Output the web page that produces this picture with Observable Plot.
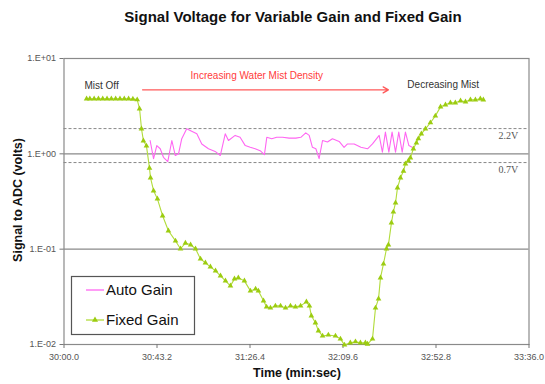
<!DOCTYPE html>
<html>
<head>
<meta charset="utf-8">
<script src="https://cdn.jsdelivr.net/npm/d3@7"></script>
<script src="https://cdn.jsdelivr.net/npm/@observablehq/plot@0.6"></script>
<style>
  html, body { margin: 0; padding: 0; background: #fff; }
  svg { font-family: Arial, "Liberation Sans", sans-serif; }
</style>
</head>
<body>
<div id="chart"></div>
<script>
// ---- Data (time in seconds after 30:00.0, values in volts) ----
const autoTime = [40.0, 41.6, 43.1, 44.7, 46.2, 48.2, 50.1, 51.7, 53.2, 54.7, 57.0, 58.6, 61.7, 64.0, 67.1, 70.2, 72.6, 74.9, 76.4, 79.5, 81.8, 84.2, 86.5, 88.8, 91.1, 93.1, 94.2, 96.5, 98.8, 101.5, 104.6, 107.7, 110.0, 112.3, 113.9, 115.4, 117.0, 118.5, 120.1, 122.4, 124.7, 127.8, 130.1, 131.7, 134.8, 137.9, 141.0, 143.3, 146.4, 147.9, 149.3, 150.9, 152.4, 154.0, 155.5, 157.1, 158.6, 160.2, 161.7];
const autoVolts = [1.38, 0.89, 1.22, 1.13, 0.92, 0.83, 1.38, 0.96, 1.00, 1.44, 1.83, 1.76, 1.62, 1.27, 1.13, 1.06, 0.96, 1.62, 1.38, 1.56, 1.49, 1.22, 1.17, 1.13, 1.08, 0.98, 1.49, 1.44, 1.49, 1.49, 1.46, 1.46, 1.49, 1.66, 1.56, 1.17, 1.13, 0.89, 1.38, 1.33, 1.44, 1.35, 1.17, 1.27, 1.27, 1.17, 1.13, 1.27, 1.56, 1.04, 1.69, 1.04, 1.69, 1.04, 1.69, 1.04, 1.69, 1.22, 1.17];

const fixedTime = [10.5, 12, 14, 16, 18, 20, 22, 24, 26, 28, 30, 32, 34, 35.1, 36.0, 36.9, 38.3, 39.7, 40.2, 41.6, 43.4, 45.8, 48.5, 51.8, 54.1, 56.4, 58.8, 61.1, 63.4, 65.7, 68.0, 70.4, 72.7, 75.0, 77.3, 79.2, 81.0, 83.8, 86.6, 89.0, 90.3, 92.7, 94.1, 95.9, 98.2, 100.6, 102.9, 105.2, 107.5, 109.9, 112.6, 114.0, 114.9, 116.8, 118.2, 120.1, 122.8, 126.1, 128.4, 130.3, 133.0, 135.4, 137.7, 140.0, 141.0, 143.3, 144.7, 146.1, 147.0, 148.4, 149.8, 150.7, 152.1, 153.0, 154.0, 154.9, 156.3, 157.7, 158.6, 160.0, 160.9, 162.3, 163.7, 164.6, 166.0, 167.9, 170.2, 172.5, 174.9, 177.2, 179.5, 181.8, 184.2, 186.5, 188.8, 191.1, 193.4, 194.8];
const fixedVolts = [3.78, 3.78, 3.78, 3.78, 3.78, 3.78, 3.78, 3.78, 3.78, 3.78, 3.78, 3.76, 3.70, 2.97, 1.83, 1.37, 1.21, 0.71, 0.56, 0.41, 0.337, 0.224, 0.156, 0.122, 0.101, 0.116, 0.111, 0.101, 0.079, 0.0718, 0.0652, 0.0592, 0.0525, 0.0465, 0.0412, 0.0488, 0.050, 0.0465, 0.0365, 0.0383, 0.0365, 0.0287, 0.0248, 0.0242, 0.0254, 0.0254, 0.0242, 0.0254, 0.0248, 0.0254, 0.028, 0.0254, 0.020, 0.0169, 0.0139, 0.0123, 0.0126, 0.0123, 0.01145, 0.0099, 0.0104, 0.0107, 0.0104, 0.0104, 0.0101, 0.01145, 0.0242, 0.0301, 0.050, 0.070, 0.101, 0.111, 0.189, 0.246, 0.306, 0.44, 0.56, 0.66, 0.785, 0.845, 0.908, 1.13, 1.30, 1.44, 1.62, 1.83, 2.12, 2.50, 3.11, 3.27, 3.43, 3.43, 3.60, 3.51, 3.69, 3.69, 3.78, 3.69];

const xTicks = [0, 43.2, 86.4, 129.6, 172.8, 216];
const yTicks = [10, 1, 0.1, 0.01];
const gridValues = [1, 0.1];
const thresholdValues = [1.84, 0.81];
const thresholdLabels = ["2.2V", "0.7V"];
const seriesNames = ["Auto Gain", "Fixed Gain"];
const titleText = "Signal Voltage for Variable Gain and Fixed Gain";
const xLabel = "Time (min:sec)";
const yLabel = "Signal to ADC (volts)";

const notes = [
  {t: 9.5, v: 5.2, text: "Mist Off"},
  {t: 159.5, v: 5.3, text: "Decreasing Mist"}
];
const redNote = [{t: 58.8, v: 6.6, text: "Increasing Water Mist Density"}];
const arrowSpan = [{t1: 36.5, t2: 150.7, v: 4.69}];

// ---- Tables ----
const autoData = autoTime.map((t, i) => ({t, v: autoVolts[i]}));
const fixedData = fixedTime.map((t, i) => ({t, v: fixedVolts[i]}));
const thresholds = thresholdValues.map((v, i) => ({v, label: thresholdLabels[i]}));

const fmtTime = s => {
  const total = 30 * 60 + s;
  const m = Math.floor(total / 60 + 1e-9);
  const sec = total - m * 60;
  return m + ":" + sec.toFixed(1).padStart(4, "0");
};
const fmtSci = d => {
  const e = Math.round(Math.log10(d));
  return "1.E" + (e >= 0 ? "+" : "-") + String(Math.abs(e)).padStart(2, "0");
};

const PINK = "#ff66f2";
const GREEN = "#9ccc10";
const GREEN_LINE = "#b2dc3c";

const chart = Plot.plot({
  width: 545,
  height: 384,
  marginLeft: 63.5,
  marginRight: 16.5,
  marginTop: 58,
  marginBottom: 40,
  style: {fontFamily: 'Arial, "Liberation Sans", sans-serif', background: "#fff"},
  x: {domain: [0, 216]},
  y: {type: "log", domain: [0.01, 10]},
  marks: [
    Plot.ruleY(gridValues, {stroke: "#8a8a8a", strokeWidth: 1.2}),
    Plot.ruleY(thresholds, {y: "v", stroke: "#888", strokeDasharray: "3,2", strokeWidth: 1}),
    Plot.text(thresholds, {y: "v", x: 211, text: "label", textAnchor: "end", dy: 7,
      fontFamily: '"Liberation Serif", "DejaVu Serif", serif', fontSize: 10, fill: "#555"}),
    Plot.frame({stroke: "#8a8a8a", strokeWidth: 1.2}),
    Plot.axisX({ticks: xTicks, tickFormat: fmtTime, tickSize: 4, tickPadding: 5,
      fontSize: 9, color: "#555", stroke: "#777", label: null}),
    Plot.axisY({ticks: yTicks, tickFormat: fmtSci, tickSize: 4, tickPadding: 4,
      fontSize: 9, color: "#555", stroke: "#777", label: null}),
    Plot.text(notes, {x: "t", y: "v", text: "text", textAnchor: "start", fontSize: 10, fill: "#333"}),
    Plot.text(redNote, {x: "t", y: "v", text: "text", textAnchor: "start", fontSize: 10, fill: "#ff3b3b"}),
    Plot.arrow(arrowSpan, {x1: "t1", x2: "t2", y1: "v", y2: "v", stroke: "#ff5a5a", strokeWidth: 1.3, headLength: 7}),
    Plot.line(autoData, {x: "t", y: "v", stroke: PINK, strokeWidth: 1.1}),
    Plot.line(fixedData, {x: "t", y: "v", stroke: GREEN_LINE, strokeWidth: 1.1}),
    Plot.dot(fixedData, {x: "t", y: "v", symbol: "triangle", r: 2.1, fill: GREEN, stroke: "none"})
  ]
});

document.getElementById("chart").appendChild(chart);

const svg = d3.select(chart);
const font = 'Arial, "Liberation Sans", sans-serif';

// ---- Titles ----
const tg = svg.append("g").attr("font-family", font).attr("font-weight", "bold")
  .attr("fill", "#111").attr("text-anchor", "middle");
tg.append("text").attr("x", 293).attr("y", 17).attr("dy", "0.35em").attr("font-size", 15).text(titleText);
tg.append("text").attr("x", 297).attr("y", 373).attr("dy", "0.35em").attr("font-size", 12.5).text(xLabel);
tg.append("text").attr("transform", "translate(18,200) rotate(-90)").attr("dy", "0.35em")
  .attr("font-size", 12.5).text(yLabel);

// ---- Legend ----
const lg = svg.append("g").attr("font-family", font).attr("text-anchor", "start");
lg.append("rect").attr("x", 71.5).attr("y", 276.5).attr("width", 123).attr("height", 58)
  .attr("fill", "#fff").attr("stroke", "#555").attr("stroke-width", 1.2);
const rows = [
  {name: seriesNames[0], color: PINK, marker: false},
  {name: seriesNames[1], color: GREEN_LINE, marker: true}
];
rows.forEach((r, i) => {
  const cy = 290 + i * 30;
  lg.append("line").attr("x1", 86).attr("x2", 104).attr("y1", cy).attr("y2", cy)
    .attr("stroke", r.color).attr("stroke-width", 1.3);
  if (r.marker) {
    lg.append("path").attr("d", d3.symbol(d3.symbolTriangle, 16)()).attr("transform", `translate(95,${cy})`)
      .attr("fill", GREEN);
  }
  lg.append("text").attr("x", 106).attr("y", cy).attr("dy", "0.35em").attr("font-size", 15)
    .attr("fill", "#111").text(r.name);
});
</script>
</body>
</html>
